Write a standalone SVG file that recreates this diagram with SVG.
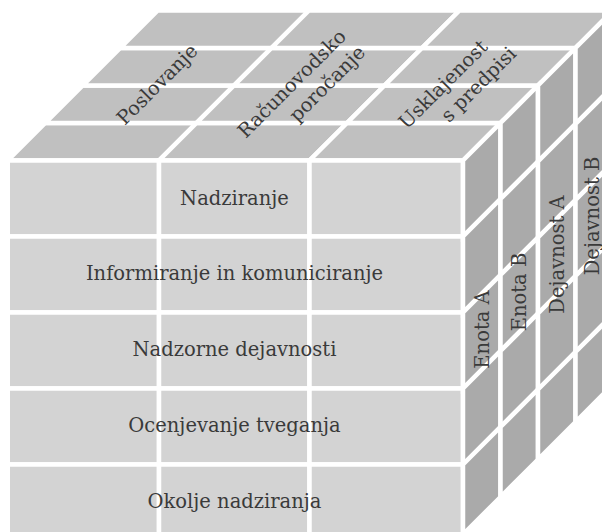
<svg xmlns="http://www.w3.org/2000/svg" width="602" height="532" viewBox="0 0 602 532">
<style>
.f{fill:#d3d3d3;stroke:#fff;stroke-width:4.5}
.t{fill:#c0c0c0;stroke:#fff;stroke-width:4.5;stroke-linejoin:miter}
.s{fill:#aaaaaa;stroke:#fff;stroke-width:4.5;stroke-linejoin:miter}
.lbl{font-family:"DejaVu Serif","Liberation Serif",serif;font-size:19.5px;fill:#3a3a3a;text-anchor:middle}
</style>
<rect width="602" height="532" fill="#fff"/>
<g id="top-face">
<g id="poslovanje">
<polygon class="t" points="7.75,160.5 159,160.5 196.5,123 45.25,123"/>
<polygon class="t" points="45.25,123 196.5,123 234,85.5 82.75,85.5"/>
<polygon class="t" points="82.75,85.5 234,85.5 271.5,48 120.25,48"/>
<polygon class="t" points="120.25,48 271.5,48 309,10.5 157.75,10.5"/>
<text class="lbl" transform="translate(158.4,85.5) rotate(-45)" x="0" y="5">Poslovanje</text>
</g>
<g id="racunovodsko-porocanje">
<polygon class="t" points="159,160.5 309.5,160.5 347,123 196.5,123"/>
<polygon class="t" points="196.5,123 347,123 384.5,85.5 234,85.5"/>
<polygon class="t" points="234,85.5 384.5,85.5 422,48 271.5,48"/>
<polygon class="t" points="271.5,48 422,48 459.5,10.5 309,10.5"/>
<text class="lbl" transform="translate(309.25,85.5) rotate(-45)"><tspan x="-11" y="-7">Računovodsko</tspan><tspan x="14" y="18">poročanje</tspan></text>
</g>
<g id="usklajenost">
<polygon class="t" points="309.5,160.5 463,160.5 500.5,123 347,123"/>
<polygon class="t" points="347,123 500.5,123 538,85.5 384.5,85.5"/>
<polygon class="t" points="384.5,85.5 538,85.5 575.5,48 422,48"/>
<polygon class="t" points="422,48 575.5,48 613,10.5 459.5,10.5"/>
<text class="lbl" transform="translate(461.25,85.5) rotate(-45)"><tspan x="-12" y="-7">Usklajenost</tspan><tspan x="13" y="18">s predpisi</tspan></text>
</g>
</g>
<g id="front-face">
<g id="nadziranje">
<rect class="f" x="7.75" y="160.5" width="151.25" height="76"/>
<rect class="f" x="159" y="160.5" width="150.5" height="76"/>
<rect class="f" x="309.5" y="160.5" width="153.5" height="76"/>
<text class="lbl" x="234.5" y="205">Nadziranje</text>
</g>
<g id="informiranje">
<rect class="f" x="7.75" y="236.5" width="151.25" height="76"/>
<rect class="f" x="159" y="236.5" width="150.5" height="76"/>
<rect class="f" x="309.5" y="236.5" width="153.5" height="76"/>
<text class="lbl" x="234.5" y="280">Informiranje in komuniciranje</text>
</g>
<g id="nadzorne-dejavnosti">
<rect class="f" x="7.75" y="312.5" width="151.25" height="76"/>
<rect class="f" x="159" y="312.5" width="150.5" height="76"/>
<rect class="f" x="309.5" y="312.5" width="153.5" height="76"/>
<text class="lbl" x="234.5" y="356">Nadzorne dejavnosti</text>
</g>
<g id="ocenjevanje-tveganja">
<rect class="f" x="7.75" y="388.5" width="151.25" height="76"/>
<rect class="f" x="159" y="388.5" width="150.5" height="76"/>
<rect class="f" x="309.5" y="388.5" width="153.5" height="76"/>
<text class="lbl" x="234.5" y="432">Ocenjevanje tveganja</text>
</g>
<g id="okolje-nadziranja">
<rect class="f" x="7.75" y="464.5" width="151.25" height="70"/>
<rect class="f" x="159" y="464.5" width="150.5" height="70"/>
<rect class="f" x="309.5" y="464.5" width="153.5" height="70"/>
<text class="lbl" x="234.5" y="508">Okolje nadziranja</text>
</g>
</g>
<g id="side-face">
<g id="enota-a">
<polygon class="s" points="463,160.5 500.5,123 500.5,199 463,236.5"/>
<polygon class="s" points="463,236.5 500.5,199 500.5,275 463,312.5"/>
<polygon class="s" points="463,312.5 500.5,275 500.5,351 463,388.5"/>
<polygon class="s" points="463,388.5 500.5,351 500.5,427 463,464.5"/>
<polygon class="s" points="463,464.5 500.5,427 500.5,497 463,534.5"/>
<text class="lbl" transform="translate(488.75,329.5) rotate(-90)" x="0" y="0">Enota A</text>
</g>
<g id="enota-b">
<polygon class="s" points="500.5,123 538,85.5 538,161.5 500.5,199"/>
<polygon class="s" points="500.5,199 538,161.5 538,237.5 500.5,275"/>
<polygon class="s" points="500.5,275 538,237.5 538,313.5 500.5,351"/>
<polygon class="s" points="500.5,351 538,313.5 538,389.5 500.5,427"/>
<polygon class="s" points="500.5,427 538,389.5 538,459.5 500.5,497"/>
<text class="lbl" transform="translate(526.25,292) rotate(-90)" x="0" y="0">Enota B</text>
</g>
<g id="dejavnost-a">
<polygon class="s" points="538,85.5 575.5,48 575.5,124 538,161.5"/>
<polygon class="s" points="538,161.5 575.5,124 575.5,200 538,237.5"/>
<polygon class="s" points="538,237.5 575.5,200 575.5,276 538,313.5"/>
<polygon class="s" points="538,313.5 575.5,276 575.5,352 538,389.5"/>
<polygon class="s" points="538,389.5 575.5,352 575.5,422 538,459.5"/>
<text class="lbl" transform="translate(563.75,254.5) rotate(-90)" x="0" y="0">Dejavnost A</text>
</g>
<g id="dejavnost-b">
<polygon class="s" points="575.5,48 613,10.5 613,86.5 575.5,124"/>
<polygon class="s" points="575.5,124 613,86.5 613,162.5 575.5,200"/>
<polygon class="s" points="575.5,200 613,162.5 613,238.5 575.5,276"/>
<polygon class="s" points="575.5,276 613,238.5 613,314.5 575.5,352"/>
<polygon class="s" points="575.5,352 613,314.5 613,384.5 575.5,422"/>
<text class="lbl" transform="translate(598.5,216) rotate(-90)" x="0" y="0">Dejavnost B</text>
</g>
</g>
<g id="connectors"/>
</svg>
